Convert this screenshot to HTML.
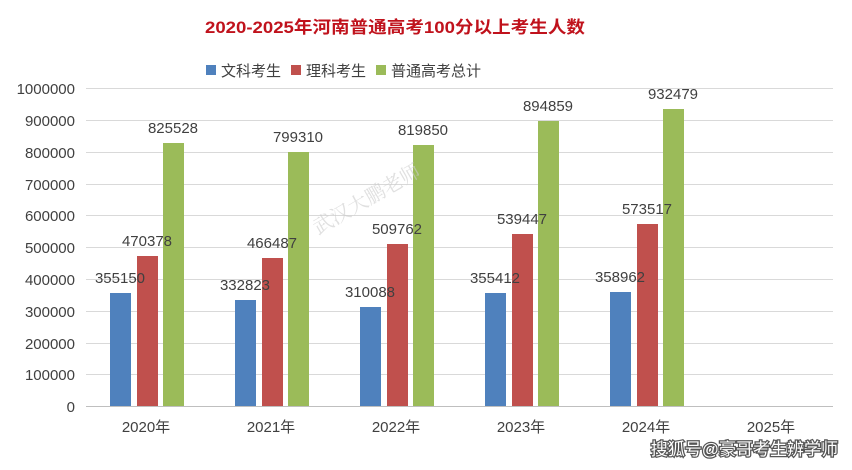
<!DOCTYPE html><html><head><meta charset="utf-8"><style>body{margin:0;background:#fff}svg{display:block}</style></head><body>
<svg width="852" height="470" xmlns="http://www.w3.org/2000/svg" font-family="Liberation Sans, Noto Sans CJK SC, sans-serif">
<rect width="852" height="470" fill="#fff"/>
<text x="205" y="33" textLength="380" lengthAdjust="spacingAndGlyphs" font-family="Liberation Sans, Noto Sans CJK SC, sans-serif" font-weight="bold" font-size="17" fill="#c0121c">2020-2025年河南普通高考100分以上考生人数</text>
<g font-size="15" fill="#404040">
<rect x="206" y="65" width="10" height="10" fill="#4f81bd"/><text x="221" y="76">文科考生</text>
<rect x="291" y="65" width="10" height="10" fill="#c0504d"/><text x="306" y="76">理科考生</text>
<rect x="376" y="65" width="10" height="10" fill="#9bbb59"/><text x="391" y="76">普通高考总计</text>
</g>
<g stroke="#d9d9d9" stroke-width="1">
<line x1="86" x2="833" y1="88.5" y2="88.5"/><line x1="86" x2="833" y1="120.5" y2="120.5"/><line x1="86" x2="833" y1="152.5" y2="152.5"/><line x1="86" x2="833" y1="184.5" y2="184.5"/><line x1="86" x2="833" y1="215.5" y2="215.5"/><line x1="86" x2="833" y1="247.5" y2="247.5"/><line x1="86" x2="833" y1="279.5" y2="279.5"/><line x1="86" x2="833" y1="311.5" y2="311.5"/><line x1="86" x2="833" y1="343.5" y2="343.5"/><line x1="86" x2="833" y1="374.5" y2="374.5"/>
</g>
<line x1="86" x2="833" y1="406.5" y2="406.5" stroke="#bfbfbf"/>
<g font-size="15" fill="#404040" text-anchor="end">
<text x="75" y="94">1000000</text><text x="75" y="126">900000</text><text x="75" y="158">800000</text><text x="75" y="190">700000</text><text x="75" y="221">600000</text><text x="75" y="253">500000</text><text x="75" y="285">400000</text><text x="75" y="317">300000</text><text x="75" y="349">200000</text><text x="75" y="380">100000</text><text x="75" y="412">0</text>
</g>
<g>
<rect x="110" y="293" width="21" height="113" fill="#4f81bd"/><rect x="137" y="256" width="21" height="150" fill="#c0504d"/><rect x="163" y="143" width="21" height="263" fill="#9bbb59"/>
<rect x="235" y="300" width="21" height="106" fill="#4f81bd"/><rect x="262" y="258" width="21" height="148" fill="#c0504d"/><rect x="288" y="152" width="21" height="254" fill="#9bbb59"/>
<rect x="360" y="307" width="21" height="99" fill="#4f81bd"/><rect x="387" y="244" width="21" height="162" fill="#c0504d"/><rect x="413" y="145" width="21" height="261" fill="#9bbb59"/>
<rect x="485" y="293" width="21" height="113" fill="#4f81bd"/><rect x="512" y="234" width="21" height="172" fill="#c0504d"/><rect x="538" y="121" width="21" height="285" fill="#9bbb59"/>
<rect x="610" y="292" width="21" height="114" fill="#4f81bd"/><rect x="637" y="224" width="21" height="182" fill="#c0504d"/><rect x="663" y="109" width="21" height="297" fill="#9bbb59"/>
</g>
<g font-size="15" fill="#404040" text-anchor="middle">
<text x="120" y="283">355150</text><text x="147" y="246">470378</text><text x="173" y="133">825528</text>
<text x="245" y="290">332823</text><text x="272" y="248">466487</text><text x="298" y="142">799310</text>
<text x="370" y="297">310088</text><text x="397" y="234">509762</text><text x="423" y="135">819850</text>
<text x="495" y="283">355412</text><text x="522" y="224">539447</text><text x="548" y="111">894859</text>
<text x="620" y="282">358962</text><text x="647" y="214">573517</text><text x="673" y="99">932479</text>
<text x="146" y="432">2020年</text><text x="271" y="432">2021年</text><text x="396" y="432">2022年</text><text x="521" y="432">2023年</text><text x="646" y="432">2024年</text><text x="771" y="432">2025年</text>
</g>
<text x="370" y="205" font-size="20" fill="#ccc" opacity="0.6" transform="rotate(-30 370 205)" text-anchor="middle" font-family="Noto Serif CJK SC, serif">武汉大鹏老师</text>
<text x="838" y="455" text-anchor="end" font-size="17" fill="#fff" stroke="#555" stroke-width="2.5" paint-order="stroke">搜狐号@豪哥考生辨学师</text>
</svg>
</body></html>
